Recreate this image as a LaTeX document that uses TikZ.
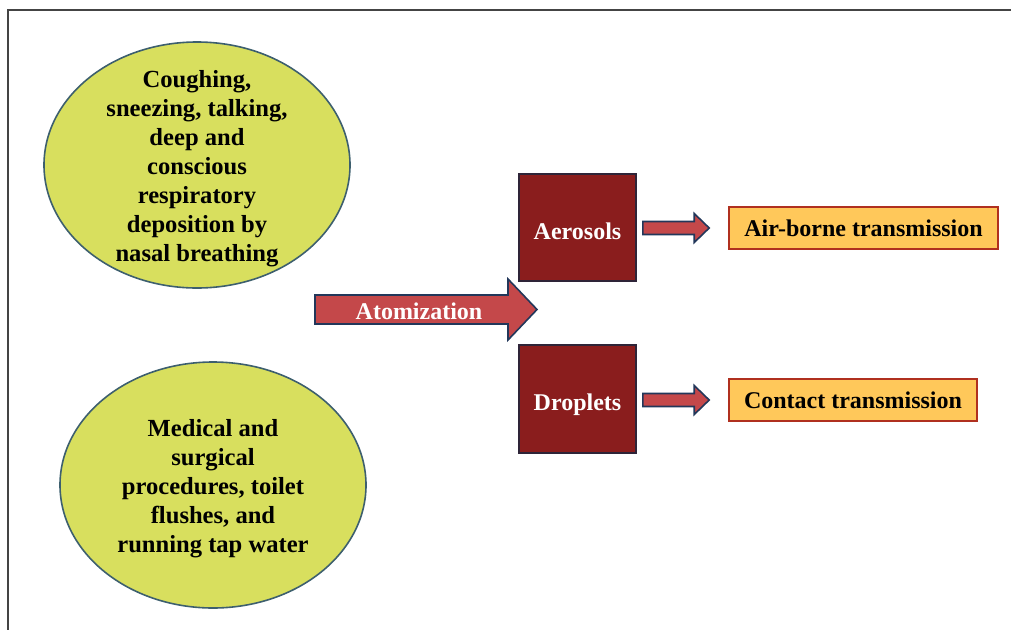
\documentclass[tikz,border=0pt]{standalone}
\usepackage{fontspec}
\setmainfont{Liberation Serif}
\usetikzlibrary{shapes.geometric,calc}
\definecolor{ellfill}{HTML}{D8DF5E}
\definecolor{elldraw}{HTML}{3D5F6E}
\definecolor{boxfill}{HTML}{8A1D1D}
\definecolor{boxdraw}{HTML}{2E2438}
\definecolor{arrfill}{HTML}{C4484A}
\definecolor{arrdraw}{HTML}{22375A}
\definecolor{orfill}{HTML}{FFC85A}
\definecolor{ordraw}{HTML}{B0301F}
\definecolor{framec}{HTML}{444444}
\newcommand\blockarr[5]{%
  \draw[arrowsty] let \p1=(#1), \p2=(#2) in
    (\x1,\y1+#3) -- (\x2-#5,\y1+#3) -- (\x2-#5,\y1+#4) -- (\x2,\y1)
    -- (\x2-#5,\y1-#4) -- (\x2-#5,\y1-#3) -- (\x1,\y1-#3) -- cycle;}
\tikzset{
  txt/.style={font=\bfseries\fontsize{24}{29}\selectfont},
  bigtxt/.style={font=\bfseries\fontsize{24.6}{29}\selectfont, align=center},
  source/.style={ellipse, draw=elldraw, line width=1.6pt, fill=ellfill,
    inner sep=0pt, minimum width=306pt, minimum height=246pt},
  form/.style={rectangle, draw=boxdraw, line width=1.6pt, fill=boxfill,
    minimum width=117pt, minimum height=107pt, inner sep=0pt},
  formtxt/.style={txt, text=white},
  route/.style={rectangle, draw=ordraw, line width=1.6pt, fill=orfill,
    minimum height=42pt, inner sep=0pt, txt},
  arrowsty/.style={draw=arrdraw, fill=arrfill, line width=1.6pt, line join=miter},
}
\begin{document}
\begin{tikzpicture}[x=1pt,y=-1pt]
\useasboundingbox (0,0) rectangle (1011,630);
% frame
\coordinate (fTR) at (1011,10);
\coordinate (fTL) at (8,10);
\coordinate (fBL) at (8,630);
\draw[framec, line width=1.4pt] (fTR) -- (fTL) -- (fBL);

% sources
\node[source] (src1) at (197,165) {};
\node[bigtxt] (src1txt) at (197,169) {Coughing,\\sneezing, talking,\\deep and\\conscious\\respiratory\\deposition by\\nasal breathing};
\node[source] (src2) at (213,485) {};
\node[bigtxt] (src2txt) at (213,489) {Medical and\\surgical\\procedures, toilet\\flushes, and\\running tap water};

% forms
\node[form] (aero) at (577.5,227.5) {};
\node[formtxt] (aerotxt) at (577.5,231) {Aerosols};
\node[form, minimum height=108pt] (drop) at (577.5,399) {};
\node[formtxt] (droptxt) at (577.5,405) {Droplets};

% routes
\node[route, minimum width=269pt] (air) at (863.5,228) {Air-borne transmission};
\node[route, minimum width=248pt] (cont) at (853,400) {Contact transmission};

% atomization arrow
\coordinate (atomS) at (315,309.5);
\coordinate (atomT) at (537,309.5);
\blockarr{atomS}{atomT}{14.5}{30.5}{29}
\node[txt, text=white] (atom) at (419,311) {Atomization};

% small arrows
\blockarr{$(aero.east)+(6,0.5)$}{$(air.west)+(-19,0)$}{6.5}{14.5}{15}
\blockarr{$(drop.east)+(6,1)$}{$(cont.west)+(-19,0)$}{6.5}{14.5}{15}
\end{tikzpicture}
\end{document}
